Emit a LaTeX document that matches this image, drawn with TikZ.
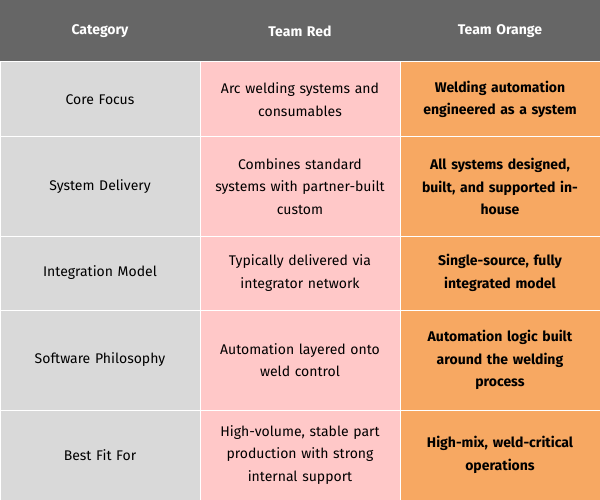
\documentclass[tikz,border=0pt]{standalone}
\usepackage{fontspec}
\setmainfont{Fira Sans}
\definecolor{headgray}{HTML}{666666}
\definecolor{catgray}{HTML}{D9D9D9}
\definecolor{redcell}{HTML}{FFC8C8}
\definecolor{orangecell}{HTML}{F7A862}
\tikzset{
  cell/.style={draw=white,line width=1pt},
  txt/.style={align=center,text width=180pt,font=\fontsize{14}{22.5}\selectfont,inner sep=0pt},
  head/.style={txt,text=white,font=\fontsize{14}{22.5}\selectfont\bfseries},
  bold/.style={txt,font=\fontsize{14}{22.5}\selectfont\bfseries}
}
\begin{document}
\begin{tikzpicture}[x=1pt,y=-1pt]
\useasboundingbox (0,0) rectangle (600,500);
% header
\fill[headgray] (0,0) rectangle (600,62);
\node[head] (h1) at (100,31) {Category};
\node[head] (h2) at (300,31) {Team Red};
\node[head] (h3) at (500,31) {Team Orange};
% rows
\foreach \ya/\yb/\cat/\red/\org in {
  62/137/Core Focus/{Arc welding systems and\\consumables}/{Welding automation\\engineered as a system},
  137/236/System Delivery/{Combines standard\\systems with partner-built\\custom}/{All systems designed,\\built, and supported in-\\house},
  236/310/Integration Model/{Typically delivered via\\integrator network}/{Single-source, fully\\integrated model},
  310/410/Software Philosophy/{Automation layered onto\\weld control}/{Automation logic built\\around the welding\\process},
  410/500/Best Fit For/{High-volume, stable part\\production with strong\\internal support}/{High-mix, weld-critical\\operations}}{
  \filldraw[cell,fill=catgray] (0,\ya) rectangle (200,\yb);
  \filldraw[cell,fill=redcell] (200,\ya) rectangle (400,\yb);
  \filldraw[cell,fill=orangecell] (400,\ya) rectangle (600,\yb);
  \node[txt] (c) at (100,{(\ya+\yb)/2}) {\cat};
  \node[txt] (r) at (300,{(\ya+\yb)/2}) {\red};
  \node[bold] (o) at (500,{(\ya+\yb)/2}) {\org};
}
\end{tikzpicture}
\end{document}
